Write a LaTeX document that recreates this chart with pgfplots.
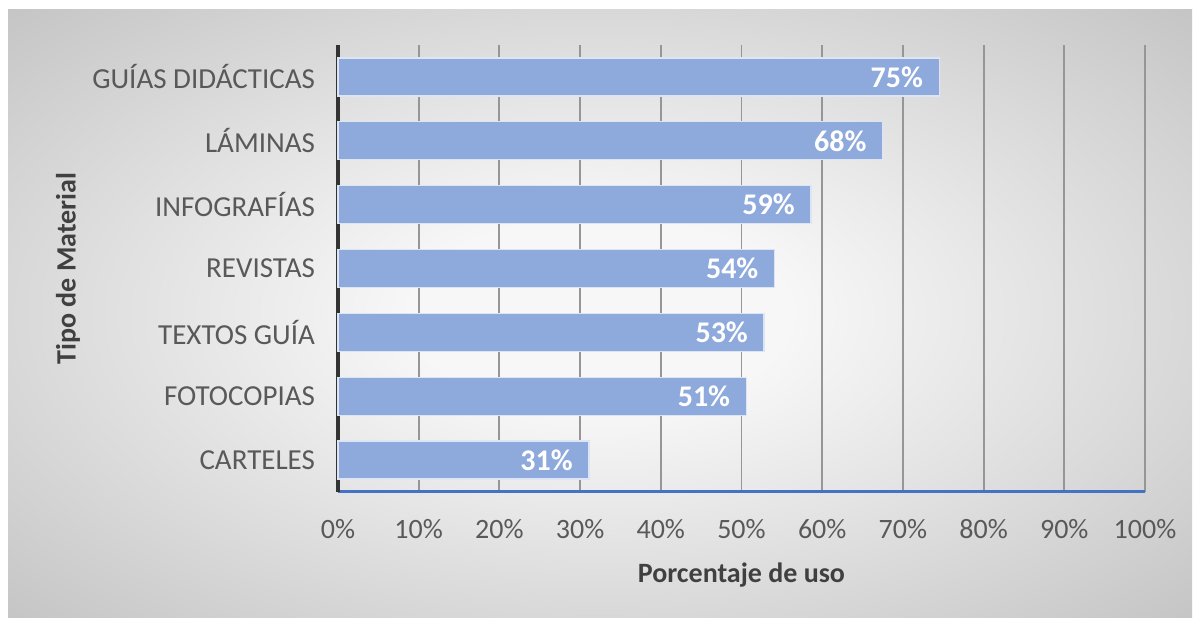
\documentclass[border=0pt]{standalone}
\usepackage{pgfplots}
\pgfplotsset{compat=1.18}
\usepackage{pgfplotstable}
\usepackage{fontspec}
\setmainfont{Carlito}
\definecolor{barblue}{RGB}{142,169,219}
\definecolor{axblue}{RGB}{68,114,196}
\definecolor{ticktxt}{RGB}{89,89,89}
\definecolor{titletxt}{RGB}{64,64,64}
\definecolor{gridc}{RGB}{150,150,150}
\definecolor{bgin}{RGB}{247,247,247}
\definecolor{bgout}{RGB}{196,196,196}
\pgfdeclareradialshading{bgshade}{\pgfpoint{0bp}{0bp}}{color(0bp)=(bgin); color(8bp)=(bgin); color(36bp)=(bgout); color(50bp)=(bgout)}
\pgfplotstableread{
y x lab
1 31.1 31
2 50.6 51
3 52.8 53
4 54.1 54
5 58.6 59
6 67.5 68
7 74.5 75
}\datatable
\begin{document}
\begin{tikzpicture}
\path[use as bounding box, fill=white] (0,0) rectangle (600pt,310.5pt);
\shade[shading=bgshade] (4pt,1.5pt) rectangle (596pt,305.5pt);
\begin{axis}[
  at={(169pt,64.5pt)}, anchor=south west,
  scale only axis, width=403.5pt, height=223.5pt,
  xbar, bar width=19pt, bar shift=0pt,
  xmin=0, xmax=100, ymin=0.5, ymax=7.5,
  xtick={0,10,...,100},
  xticklabels={0\%,10\%,20\%,30\%,40\%,50\%,60\%,70\%,80\%,90\%,100\%},
  ytick={1,...,7},
  yticklabels={CARTELES,FOTOCOPIAS,TEXTOS GUÍA,REVISTAS,INFOGRAFÍAS,LÁMINAS,GUÍAS DIDÁCTICAS},
  major tick length=0pt,
  axis x line*=bottom, axis y line*=left,
  x axis line style={-, draw=axblue, line width=1.5pt},
  y axis line style={-, draw=black!80, line width=1.8pt},
  xmajorgrids, grid style={draw=gridc, line width=0.9pt},
  ticklabel style={font=\fontsize{14pt}{16pt}\selectfont, text=ticktxt},
  xticklabel style={anchor=north, yshift=-10pt},
  yticklabel style={anchor=east, xshift=-8pt, font=\fontsize{14.5pt}{16pt}\selectfont},
  xlabel={Porcentaje de uso},
  ylabel={Tipo de Material},
  label style={font=\fontsize{14pt}{16pt}\selectfont\bfseries, text=titletxt},
  xlabel style={at={(axis description cs:0.5,-0.1857)}, anchor=center},
  ylabel style={at={(axis description cs:-0.3346,0.5)}, anchor=center},
  point meta=explicit symbolic,
  nodes near coords={\pgfplotspointmeta\%},
  every node near coord/.append style={anchor=east, xshift=-4.5pt, text=white, font=\fontsize{15pt}{16pt}\selectfont\bfseries},
  clip=false,
]
\addplot[fill=barblue, draw=white!70!barblue, line width=0.6pt] table[x=x, y=y, meta=lab] {\datatable};
\end{axis}
\end{tikzpicture}
\end{document}
